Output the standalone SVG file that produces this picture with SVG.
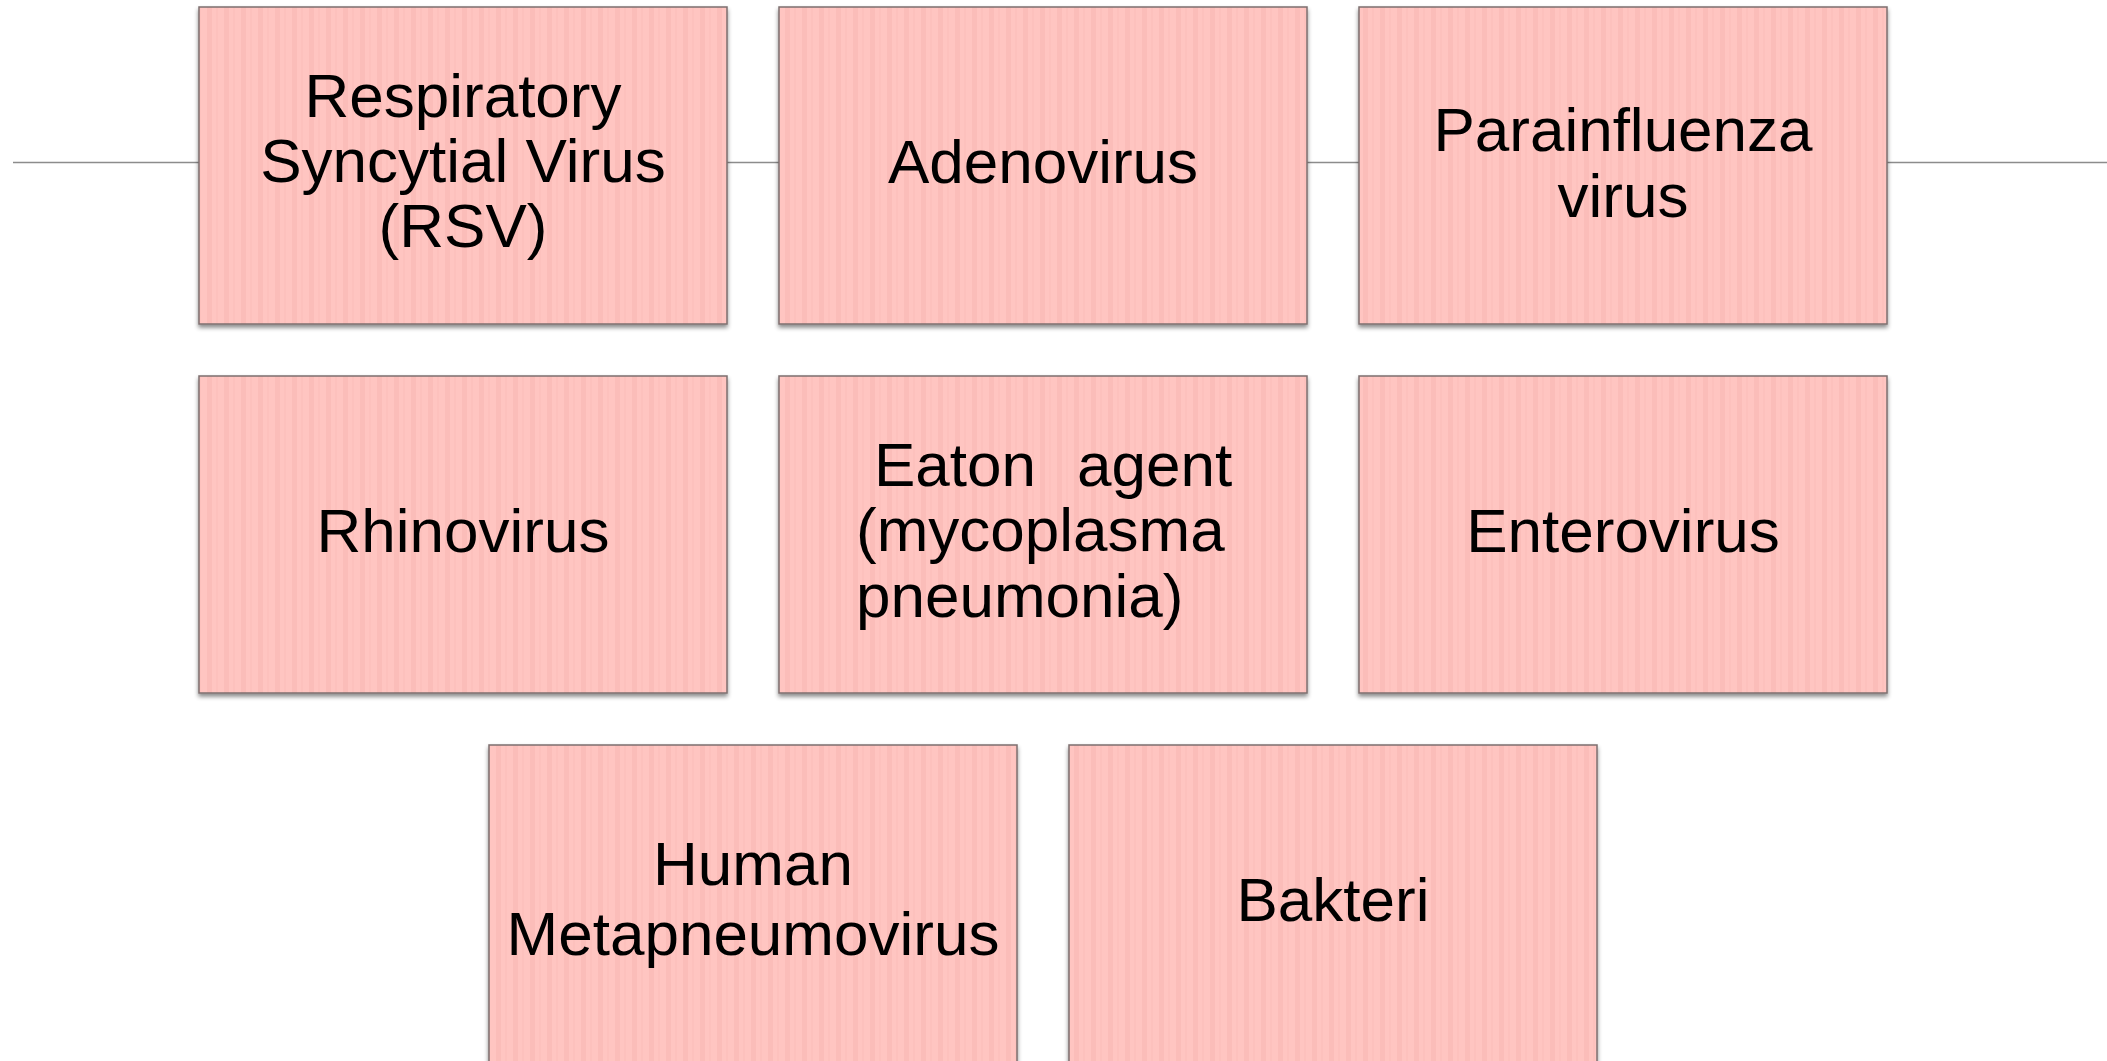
<svg xmlns="http://www.w3.org/2000/svg" width="2107" height="1061" viewBox="0 0 2107 1061">
<defs>
<pattern id="stripes" patternUnits="userSpaceOnUse" width="17" height="20">
<rect width="17" height="20" fill="#FFC5C1"/>
<rect x="3" width="5" height="20" fill="#FBBDB9"/>
<rect x="12" width="2" height="20" fill="#FDC1BD"/>
</pattern>
<filter id="shadow" x="-5%" y="-5%" width="110%" height="115%">
<feDropShadow dx="0" dy="3" stdDeviation="2" flood-color="#000" flood-opacity="0.45"/>
</filter>
</defs>
<style>
.box{fill:url(#stripes);stroke:#7d6f6f;stroke-width:1.5;filter:url(#shadow)}
.t{font-family:"Liberation Sans",Arial,sans-serif;font-size:62px;fill:#000;text-anchor:middle}
.tl{text-anchor:start}
.conn{stroke:#8c8c8c;stroke-width:1.5;fill:none}
</style>
<rect width="2107" height="1061" fill="#fff"/>
<g id="connectors">
<line class="conn" x1="13" y1="162.5" x2="2107" y2="162.5"/>
</g>
<g id="node-rsv">
<rect class="box" x="199" y="7" width="528" height="317"/>
<text class="t"><tspan x="463" y="117">Respiratory</tspan><tspan x="463" y="182">Syncytial Virus</tspan><tspan x="463" y="247">(RSV)</tspan></text>
</g>
<g id="node-adenovirus">
<rect class="box" x="779" y="7" width="528" height="317"/>
<text class="t" x="1043" y="183">Adenovirus</text>
</g>
<g id="node-parainfluenza">
<rect class="box" x="1359" y="7" width="528" height="317"/>
<text class="t"><tspan x="1623" y="151">Parainfluenza</tspan><tspan x="1623" y="217">virus</tspan></text>
</g>
<g id="node-rhinovirus">
<rect class="box" x="199" y="376" width="528" height="317"/>
<text class="t" x="463" y="552">Rhinovirus</text>
</g>
<g id="node-eaton">
<rect class="box" x="779" y="376" width="528" height="317"/>
<text class="t tl"><tspan x="874" y="486">Eaton </tspan><tspan x="1077" y="486">agent</tspan><tspan x="856" y="551">(mycoplasma</tspan><tspan x="856" y="617">pneumonia)</tspan></text>
</g>
<g id="node-enterovirus">
<rect class="box" x="1359" y="376" width="528" height="317"/>
<text class="t" x="1623" y="552">Enterovirus</text>
</g>
<g id="node-hmpv">
<rect class="box" x="489" y="745" width="528" height="317"/>
<text class="t"><tspan x="753" y="885">Human</tspan><tspan x="753" y="955">Metapneumovirus</tspan></text>
</g>
<g id="node-bakteri">
<rect class="box" x="1069" y="745" width="528" height="317"/>
<text class="t" x="1333" y="921">Bakteri</text>
</g>
</svg>
